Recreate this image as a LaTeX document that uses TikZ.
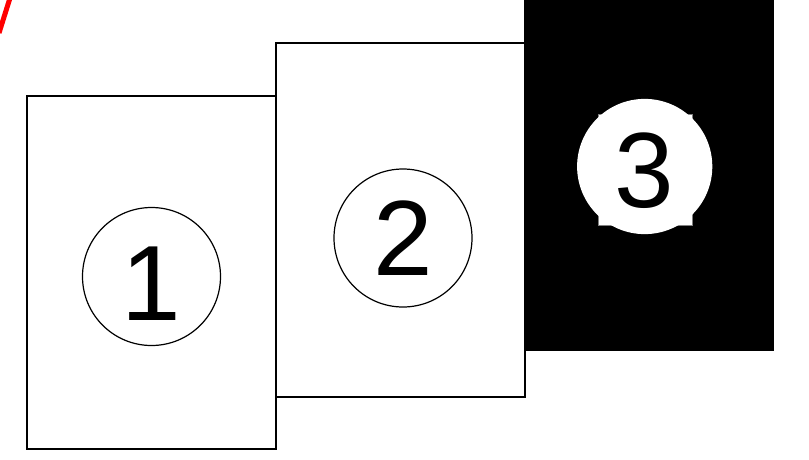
\documentclass[tikz,border=0pt]{standalone}
\usepackage{fontspec}
\setmainfont{Liberation Sans}
\usetikzlibrary{positioning}

\begin{document}
\begin{tikzpicture}[x=1pt, y=-1pt,
    page/.style={draw, line width=1.2pt, minimum width=249pt, minimum height=353pt, inner sep=0pt},
    disc/.style={draw, circle, line width=1.2pt, minimum size=138pt, inner sep=0pt},
    num/.style={font=\fontsize{107}{107}\selectfont, inner sep=0pt},
]
\useasboundingbox (0,0) rectangle (809,459);

% Pages
\node[page, fill=white] (p1) at (151.5,272.5) {};
\node[page, fill=white, minimum height=354pt] (p2) at (400.5,220) {};
\node[page, fill=black, minimum width=248pt, minimum height=352pt] (p3) at (649,174) {};

% Numbered discs
\node[disc, fill=white] (c1) at (151.5,276.5) {};
\node[num] at ([yshift=-7pt]c1.center) {1};
\node[disc, fill=white] (c2) at (403,238) {};
\node[num] at (c2.center) {2};
\node[draw=gray, line width=0.5pt, fill=white, minimum width=94pt, minimum height=111pt, inner sep=0pt] (sq) at (645,169.5) {};
\node[disc, draw=white, fill=white, minimum size=134pt] (c3) at (644.7,166.5) {};
\node[num] at ([yshift=-4pt]c3.center) {3};

% Red mark
\draw[red, line width=5pt] (10,-2) -- (-1,33);
\end{tikzpicture}
\end{document}
